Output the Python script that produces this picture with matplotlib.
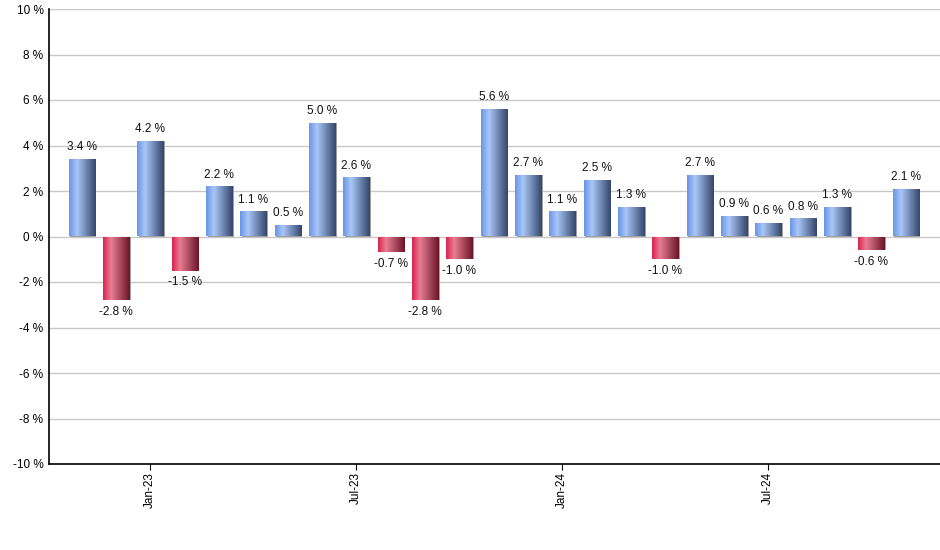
import numpy as np
import matplotlib
matplotlib.use("Agg")
import matplotlib.pyplot as plt
from matplotlib.colors import LinearSegmentedColormap

plt.rcParams['font.family'] = ['Liberation Sans', 'DejaVu Sans']

# monthly returns, Nov-22 .. Nov-24
months = ['Nov-22', 'Dec-22', 'Jan-23', 'Feb-23', 'Mar-23', 'Apr-23', 'May-23',
          'Jun-23', 'Jul-23', 'Aug-23', 'Sep-23', 'Oct-23', 'Nov-23', 'Dec-23',
          'Jan-24', 'Feb-24', 'Mar-24', 'Apr-24', 'May-24', 'Jun-24', 'Jul-24',
          'Aug-24', 'Sep-24', 'Oct-24', 'Nov-24']
returns = [3.4, -2.8, 4.2, -1.5, 2.2, 1.1, 0.5, 5.0, 2.6, -0.7, -2.8, -1.0, 5.6,
           2.7, 1.1, 2.5, 1.3, -1.0, 2.7, 0.9, 0.6, 0.8, 1.3, -0.6, 2.1]
tick_months = ['Jan-23', 'Jul-23', 'Jan-24', 'Jul-24']
y_ticks = list(range(-10, 11, 2))

blue_cmap = LinearSegmentedColormap.from_list(
    'b', [(0, '#6995e6'), (0.3, '#a9c6f8'), (1, '#33456a')])
red_cmap = LinearSegmentedColormap.from_list(
    'r', [(0, '#d9224b'), (0.3, '#e97d93'), (1, '#6a1427')])

fig = plt.figure(figsize=(9.4, 5.5), dpi=100)
ax = fig.add_axes([49 / 940, 86 / 550, 891 / 940, 455 / 550])

x = np.arange(len(months))
width = 0.76
grad = np.linspace(0, 1, 256).reshape(1, -1)

# shadow
ax.bar(x + 0.05, returns, width=width, color='#a0a0a0', zorder=2)
bars = ax.bar(x, returns, width=width, color='none', zorder=3)
for b, v in zip(bars, returns):
    x0 = b.get_x()
    cmap = blue_cmap if v >= 0 else red_cmap
    im = ax.imshow(grad, cmap=cmap, aspect='auto', zorder=3,
                   extent=[x0, x0 + width, min(0, v), max(0, v)])
    im.set_clip_path(b)
    if v >= 0:
        ax.text(b.get_x() + width / 2, v + 0.25, f'{v:.1f} %', ha='center',
                va='bottom', fontsize=8.5, color='#111111')
    else:
        ax.text(b.get_x() + width / 2, v - 0.25, f'{v:.1f} %', ha='center',
                va='top', fontsize=8.5, color='#111111')

ax.set_xlim(-0.95, 25)
ax.set_ylim(-10, 10)
ax.set_yticks(y_ticks)
ax.set_yticklabels([f'{t} %' for t in y_ticks], fontsize=8.5)
ax.set_xticks([months.index(m) for m in tick_months])
ax.set_xticklabels(tick_months, rotation=90, fontsize=8.5)
ax.tick_params(axis='y', length=0, pad=4)
ax.tick_params(axis='x', length=4, direction='out', pad=2)
ax.grid(axis='y', color='#c8c8c8', linewidth=1, zorder=0)
ax.set_axisbelow(True)
for s in ['top', 'right']:
    ax.spines[s].set_visible(False)
ax.spines['left'].set_linewidth(1.2)
ax.spines['bottom'].set_linewidth(1.2)

fig.savefig('out.png', dpi=100)
